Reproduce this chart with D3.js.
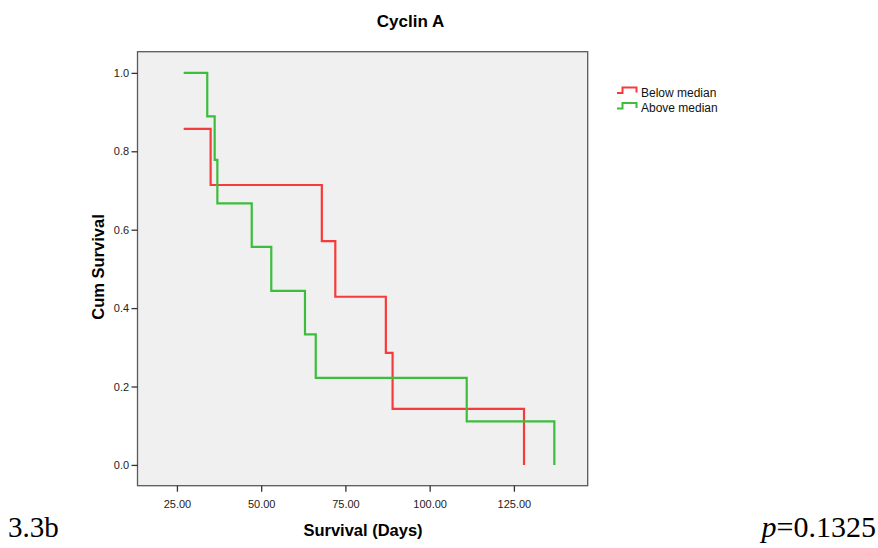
<!DOCTYPE html>
<html><head><meta charset="utf-8">
<script src="https://cdn.jsdelivr.net/npm/d3@7"></script>
<style>body{margin:0;background:#fff}svg{display:block}</style>
</head><body>
<svg id="c" width="878" height="548"></svg>
<script>
const xTicks = [25, 50, 75, 100, 125];
const yTicks = [0.0, 0.2, 0.4, 0.6, 0.8, 1.0];
const belowTimes = [27, 35, 68, 72, 87, 89, 128];
const belowSurv  = [0.857, 0.714, 0.571, 0.429, 0.286, 0.143, 0.0];
const aboveTimes = [27, 34, 36.2, 37, 47.2, 53, 63, 66.2, 111, 137];
const aboveSurv  = [1.0, 0.889, 0.778, 0.667, 0.556, 0.444, 0.333, 0.222, 0.111, 0.0];
const seriesNames = ["Below median", "Above median"];
const colors = ["#f53b3b", "#3cbd3c"];

const svg = d3.select("#c");
const L = 137.5, R = 587.7, T = 51.7, B = 485.7;
const x = d3.scaleLinear().domain([13.3, 146.9]).range([L, R]);
const y = d3.scaleLinear().domain([-0.053, 1.054]).range([B, T]);
const sans = "Liberation Sans, Arial, sans-serif";
const serif = "Liberation Serif, Times New Roman, serif";

svg.append("rect").attr("x", L).attr("y", T).attr("width", R - L).attr("height", B - T)
  .attr("fill", "#f0f0f0").attr("stroke", "#5a5a5a").attr("stroke-width", 1.3);

const gx = svg.append("g").attr("transform", `translate(0,${B})`)
  .call(d3.axisBottom(x).tickValues(xTicks).tickSize(6).tickSizeOuter(0).tickFormat(d3.format(".2f")));
const gy = svg.append("g").attr("transform", `translate(${L},0)`)
  .call(d3.axisLeft(y).tickValues(yTicks).tickSize(6).tickSizeOuter(0).tickFormat(d3.format(".1f")));
[gx, gy].forEach(g => {
  g.select(".domain").remove();
  g.selectAll("line").attr("stroke", "#333").attr("stroke-width", 1.3);
  g.selectAll("text").attr("font-family", sans).attr("font-size", 11).attr("fill", "#222");
});
gx.selectAll("text").attr("dy", "1.2em");
gy.selectAll("text").attr("dx", "0.05em");

function kmPath(times, surv) {
  const pts = [[times[0], surv[0]]];
  for (let i = 1; i < times.length; i++) {
    pts.push([times[i], surv[i - 1]]);
    pts.push([times[i], surv[i]]);
  }
  return d3.line().x(d => x(d[0])).y(d => y(d[1]))(pts);
}
const data = [[belowTimes, belowSurv], [aboveTimes, aboveSurv]];
data.forEach((d, i) => {
  svg.append("path").attr("d", kmPath(d[0], d[1])).attr("fill", "none")
    .attr("stroke", colors[i]).attr("stroke-width", 2.2).attr("stroke-linejoin", "miter");
});

// legend
const lg = svg.append("g");
seriesNames.forEach((n, i) => {
  const yy = 93 + i * 15.5;
  lg.append("path").attr("d", `M617,${yy} H622.5 V${yy-5.5} H636.5 V${yy-0.5}`)
    .attr("fill", "none").attr("stroke", colors[i]).attr("stroke-width", 2);
  lg.append("text").attr("x", 641).attr("y", yy + 3.5).text(n)
    .attr("font-family", sans).attr("font-size", 12).attr("fill", "#111");
});

svg.append("text").attr("x", 410.5).attr("y", 27).attr("text-anchor", "middle")
  .attr("font-family", sans).attr("font-weight", "bold").attr("font-size", 17)
  .text("Cyclin A");
svg.append("text").attr("transform", "translate(104,267) rotate(-90)").attr("text-anchor", "middle")
  .attr("font-family", sans).attr("font-weight", "bold").attr("font-size", 16.5)
  .text("Cum Survival");
svg.append("text").attr("x", 363).attr("y", 536).attr("text-anchor", "middle")
  .attr("font-family", sans).attr("font-weight", "bold").attr("font-size", 16.5)
  .text("Survival (Days)");

svg.append("text").attr("x", 8).attr("y", 537)
  .attr("font-family", serif).attr("font-size", 29).attr("fill", "#000")
  .text("3.3b");
const pt = svg.append("text").attr("x", 876).attr("y", 537).attr("text-anchor", "end")
  .attr("font-family", serif).attr("font-size", 30).attr("fill", "#000");
pt.append("tspan").attr("font-style", "italic").text("p");
pt.append("tspan").text("=0.1325");
</script>
</body></html>
